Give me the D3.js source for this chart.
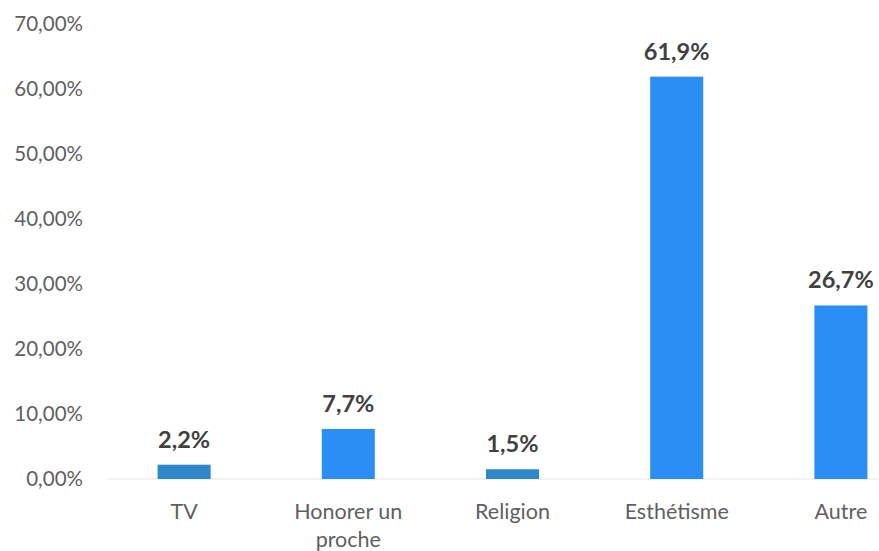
<!DOCTYPE html>
<html><head><meta charset="utf-8">
<script src="https://cdn.jsdelivr.net/npm/d3@7"></script>
<style>body{margin:0;background:#fff}svg{display:block}</style>
</head><body>
<svg id="c" width="879" height="551"></svg>
<script>
const categories = ["TV", "Honorer un proche", "Religion", "Esthétisme", "Autre"];
const values = [2.2, 7.7, 1.5, 61.9, 26.7];
const valueLabels = ["2,2%", "7,7%", "1,5%", "61,9%", "26,7%"];
const yTicks = [0, 10, 20, 30, 40, 50, 60, 70];
const barColors = ["#2e87c8", "#2a8ef4", "#2e87c8", "#2a8ef4", "#2a8ef4"];

const svg = d3.select("#c");
const font = "Lato, 'Open Sans', sans-serif";
const y = d3.scaleLinear().domain([0, 70]).range([479, 24]);
const x = d3.scaleBand().domain(categories).range([102, 923]).paddingInner(0.677).paddingOuter(0.3385);

// baseline
svg.append("line").attr("x1", 108).attr("x2", 879).attr("y1", y(0)).attr("y2", y(0))
  .attr("stroke", "#e6e6e6").attr("stroke-width", 1);

// y axis
const yAxis = d3.axisLeft(y).tickValues(yTicks).tickSize(0).tickPadding(0)
  .tickFormat(d => d3.format(".2f")(d).replace(".", ",") + "%");
const gy = svg.append("g").attr("transform", "translate(83,0)").call(yAxis);
gy.select(".domain").remove();
gy.selectAll("text").attr("font-family", font).attr("font-size", 20.5).attr("fill", "#5f5f5f");

// bars
svg.selectAll("rect.bar").data(values).join("rect").attr("class", "bar")
  .attr("x", (d, i) => x(categories[i]))
  .attr("width", x.bandwidth())
  .attr("y", d => y(d))
  .attr("height", d => y(0) - y(d))
  .attr("fill", (d, i) => barColors[i]);

// value labels
svg.selectAll("text.val").data(values).join("text").attr("class", "val")
  .attr("x", (d, i) => x(categories[i]) + x.bandwidth() / 2)
  .attr("y", d => y(d) - 17)
  .attr("text-anchor", "middle")
  .attr("font-family", font).attr("font-weight", "bold").attr("font-size", 23.5)
  .attr("fill", "#404040")
  .text((d, i) => valueLabels[i]);

// category labels (wrapped)
const wrap = { "Honorer un proche": ["Honorer un", "proche"] };
categories.forEach(c => {
  const lines = wrap[c] || [c];
  const t = svg.append("text")
    .attr("x", x(c) + x.bandwidth() / 2)
    .attr("y", 519)
    .attr("text-anchor", "middle")
    .attr("font-family", font).attr("font-size", 21.5).attr("fill", "#5f5f5f");
  lines.forEach((l, i) => t.append("tspan").attr("x", x(c) + x.bandwidth() / 2).attr("dy", i ? 28 : 0).text(l));
});
</script>
</body></html>
